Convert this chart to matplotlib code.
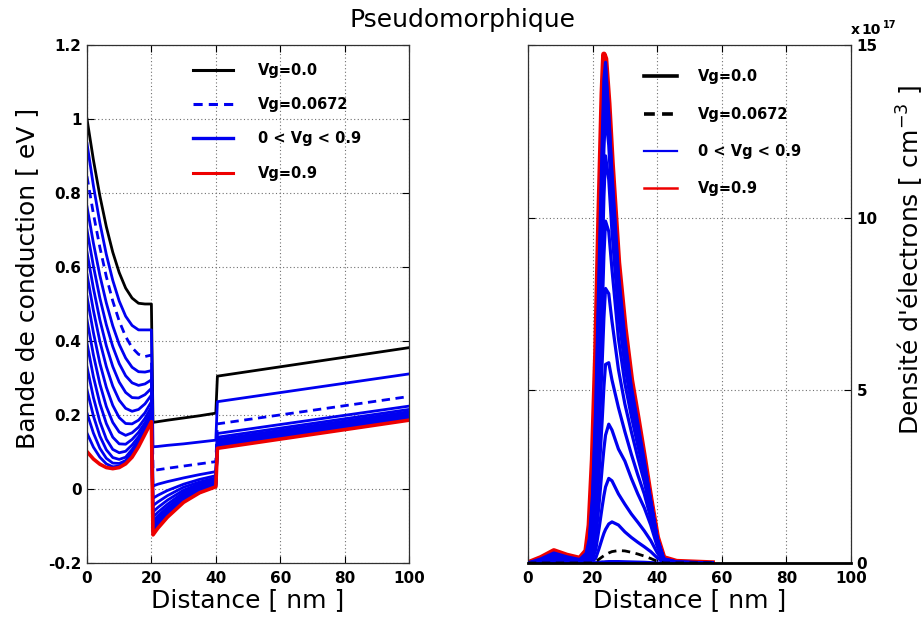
import matplotlib
matplotlib.use('Agg')
import matplotlib.pyplot as plt
from matplotlib.lines import Line2D

plt.rcParams['font.family'] = ['DejaVu Sans']

# ---------------- data : conduction band (left panel) ----------------
cb_x = [0, 2, 4, 6, 8, 10, 12, 14, 16, 18, 20, 20.5, 22, 25, 30, 35, 40, 40.5, 100]

cb_vg0 = [1.000, 0.889, 0.792, 0.709, 0.640, 0.585, 0.543, 0.516, 0.502, 0.500, 0.500,
          0.180, 0.182, 0.186, 0.192, 0.198, 0.205, 0.305, 0.382]
cb_b01 = [0.934, 0.819, 0.719, 0.634, 0.564, 0.508, 0.467, 0.442, 0.430, 0.430, 0.430,
          0.114, 0.115, 0.118, 0.122, 0.127, 0.132, 0.236, 0.311]
cb_dash = [0.845, 0.743, 0.653, 0.574, 0.508, 0.454, 0.412, 0.382, 0.364, 0.358, 0.362,
           0.050, 0.052, 0.056, 0.062, 0.068, 0.074, 0.176, 0.250]
cb_b03 = [0.763, 0.664, 0.577, 0.503, 0.441, 0.391, 0.354, 0.329, 0.317, 0.316, 0.320,
          0.008, 0.013, 0.020, 0.030, 0.039, 0.047, 0.150, 0.224]
cb_b04 = [0.700, 0.602, 0.516, 0.444, 0.385, 0.339, 0.306, 0.287, 0.280, 0.284, 0.295,
          -0.025, -0.017, -0.004, 0.013, 0.026, 0.036, 0.140, 0.215]
cb_b05 = [0.640, 0.542, 0.457, 0.387, 0.331, 0.289, 0.261, 0.247, 0.246, 0.255, 0.272,
          -0.045, -0.035, -0.018, 0.005, 0.019, 0.030, 0.134, 0.209]
cb_b06 = [0.580, 0.482, 0.399, 0.331, 0.278, 0.240, 0.218, 0.210, 0.215, 0.230, 0.254,
          -0.062, -0.050, -0.030, -0.003, 0.014, 0.025, 0.129, 0.204]
cb_b07 = [0.520, 0.422, 0.340, 0.275, 0.226, 0.193, 0.177, 0.176, 0.186, 0.206, 0.236,
          -0.076, -0.063, -0.041, -0.009, 0.009, 0.021, 0.125, 0.200]
cb_b08 = [0.457, 0.362, 0.284, 0.223, 0.180, 0.154, 0.145, 0.152, 0.167, 0.191, 0.222,
          -0.088, -0.073, -0.049, -0.015, 0.005, 0.017, 0.121, 0.197]
cb_b09 = [0.394, 0.303, 0.231, 0.177, 0.140, 0.122, 0.121, 0.134, 0.153, 0.179, 0.210,
          -0.097, -0.081, -0.056, -0.020, 0.002, 0.014, 0.118, 0.194]
cb_b10 = [0.330, 0.247, 0.182, 0.135, 0.107, 0.098, 0.102, 0.119, 0.141, 0.170, 0.200,
          -0.105, -0.088, -0.062, -0.025, -0.002, 0.012, 0.116, 0.192]
cb_b11 = [0.268, 0.197, 0.143, 0.106, 0.085, 0.080, 0.086, 0.107, 0.133, 0.163, 0.193,
          -0.111, -0.094, -0.066, -0.029, -0.005, 0.010, 0.114, 0.190]
cb_b12 = [0.205, 0.151, 0.110, 0.083, 0.070, 0.069, 0.077, 0.099, 0.127, 0.158, 0.188,
          -0.116, -0.098, -0.070, -0.032, -0.007, 0.008, 0.112, 0.189]
cb_b13 = [0.151, 0.113, 0.086, 0.068, 0.060, 0.062, 0.072, 0.092, 0.120, 0.153, 0.185,
          -0.120, -0.102, -0.073, -0.034, -0.009, 0.007, 0.111, 0.188]
cb_vg9 = [0.101, 0.081, 0.067, 0.058, 0.055, 0.058, 0.068, 0.086, 0.114, 0.148, 0.182,
          -0.124, -0.106, -0.076, -0.036, -0.010, 0.006, 0.110, 0.186]

# ---------------- data : electron density (right panel, x 1e17 cm^-3) ----------------
n_x = [0, 4, 8, 12, 16, 18, 19, 20, 21, 22, 23, 23.5, 24, 25, 26, 28, 30, 32, 34, 36, 38, 40, 42, 46, 57]
n_x0 = [0, 100]
n_vg0 = [0.0, 0.0]
n_b01 = [0, 0, 0, 0, 0, 0, 0, 0.0, 0.01, 0.02, 0.03, 0.03, 0.035, 0.04, 0.04, 0.04, 0.035, 0.03,
         0.025, 0.02, 0.01, 0.0, 0.0, 0.0, 0.0]
n_dash = [0, 0, 0, 0, 0, 0, 0, 0.0, 0.04, 0.11, 0.18, 0.21, 0.24, 0.29, 0.33, 0.36, 0.35, 0.31,
          0.26, 0.20, 0.13, 0.05, 0.0, 0.0, 0.0]
n_b03 = [0, 0, 0, 0, 0, 0, 0.01, 0.04, 0.15, 0.42, 0.72, 0.86, 0.97, 1.13, 1.19, 1.10, 0.90, 0.74,
         0.60, 0.47, 0.33, 0.15, 0.02, 0.0, 0.0]
n_b04 = [0, 0, 0, 0, 0, 0.01, 0.03, 0.12, 0.40, 1.00, 1.65, 1.95, 2.20, 2.45, 2.38, 2.00, 1.70, 1.42,
         1.18, 0.93, 0.65, 0.30, 0.04, 0.0, 0.0]
n_b05 = [0, 0, 0, 0, 0, 0.02, 0.06, 0.25, 0.75, 1.70, 2.80, 3.30, 3.70, 4.02, 3.85, 3.30, 2.95, 2.45,
         2.00, 1.60, 1.10, 0.48, 0.07, 0.01, 0.0]
n_b06 = [0, 0, 0, 0, 0, 0.03, 0.10, 0.40, 1.20, 2.60, 4.20, 5.10, 5.75, 5.80, 5.30, 4.50, 3.80, 3.15,
         2.55, 2.00, 1.30, 0.56, 0.08, 0.01, 0.0]
n_b07 = [0, 0, 0.01, 0, 0, 0.05, 0.16, 0.60, 1.75, 3.70, 5.90, 7.10, 7.95, 7.80, 7.00, 5.60, 4.60, 3.80,
         3.05, 2.35, 1.50, 0.62, 0.09, 0.01, 0.0]
n_b08 = [0, 0, 0.02, 0.01, 0.01, 0.07, 0.22, 0.85, 2.30, 4.80, 7.40, 8.90, 9.90, 9.60, 8.50, 6.50, 5.20,
         4.25, 3.40, 2.60, 1.62, 0.66, 0.10, 0.01, 0.0]
n_b09 = [0, 0.01, 0.04, 0.03, 0.02, 0.10, 0.30, 1.10, 2.90, 5.80, 8.80, 10.6, 11.79, 11.1, 9.60, 7.20,
         5.70, 4.60, 3.65, 2.70, 1.68, 0.68, 0.10, 0.02, 0.0]
n_b10 = [0, 0.03, 0.09, 0.06, 0.04, 0.15, 0.40, 1.40, 3.50, 6.80, 10.2, 12.0, 13.04, 12.1, 10.4, 7.70,
         6.00, 4.80, 3.80, 2.80, 1.72, 0.70, 0.11, 0.02, 0.0]
n_b11 = [0, 0.06, 0.16, 0.10, 0.06, 0.20, 0.50, 1.60, 3.90, 7.40, 11.0, 12.9, 13.8, 12.6, 10.8, 8.00,
         6.20, 4.90, 3.90, 2.85, 1.75, 0.70, 0.12, 0.02, 0.0]
n_b12 = [0, 0.09, 0.23, 0.14, 0.08, 0.24, 0.60, 1.80, 4.30, 8.00, 11.7, 13.5, 14.3, 12.9, 11.1, 8.20,
         6.35, 5.00, 3.95, 2.90, 1.78, 0.71, 0.12, 0.03, 0.0]
n_b13 = [0, 0.12, 0.29, 0.18, 0.10, 0.28, 0.70, 2.00, 4.60, 8.50, 12.3, 14.0, 14.5, 13.0, 11.3, 8.40,
         6.50, 5.10, 4.05, 2.95, 1.80, 0.72, 0.12, 0.03, 0.0]
n_vg9 = [0, 0.15, 0.35, 0.22, 0.13, 0.35, 1.10, 3.00, 6.00, 10.0, 13.6, 14.73, 14.6, 13.3, 11.6, 8.70,
         6.80, 5.30, 4.20, 3.05, 1.85, 0.75, 0.15, 0.04, 0.0]

cb_blues = [cb_b01, cb_b03, cb_b04, cb_b05, cb_b06, cb_b07, cb_b08, cb_b09, cb_b10, cb_b11, cb_b12, cb_b13]
n_blues = [n_b01, n_b03, n_b04, n_b05, n_b06, n_b07, n_b08, n_b09, n_b10, n_b11, n_b12, n_b13]

x_ticks = [0, 20, 40, 60, 80, 100]
cb_ticks = [-0.2, 0, 0.2, 0.4, 0.6, 0.8, 1.0, 1.2]
cb_ticklabels = ['-0.2', '0', '0.2', '0.4', '0.6', '0.8', '1', '1.2']
n_ticks = [0, 5, 10, 15]
legend_labels_left = ['Vg=0.0', 'Vg=0.0672', '0 < Vg < 0.9', 'Vg=0.9']
legend_labels_right = ['Vg=0.0', 'Vg=0.0672', '0 < Vg < 0.9', 'Vg=0.9']

BLUE = '#0000f0'
RED = '#ee0000'

W, H = 924, 617
fig = plt.figure(figsize=(W / 100, H / 100), dpi=100)
ax1 = fig.add_axes([87 / W, 1 - 563 / H, 322 / W, 518 / H])
ax2 = fig.add_axes([528 / W, 1 - 563 / H, 323 / W, 518 / H])


def style(ax):
    ax.grid(True, linestyle=(0, (1, 2.2)), color='#707070', linewidth=0.8)
    ax.set_axisbelow(True)
    ax.tick_params(direction='in', length=5, width=0.8, top=True, right=True,
                   labelsize=11, pad=4)
    for s in ax.spines.values():
        s.set_color('#303030')
        s.set_linewidth(0.9)


# ---------- left panel ----------
ax1.plot(cb_x, cb_vg0, color='black', lw=2.0)
for ys in cb_blues:
    ax1.plot(cb_x, ys, color=BLUE, lw=2.0)
ax1.plot(cb_x, cb_dash, color=BLUE, lw=2.0, dashes=(3, 2))
ax1.plot(cb_x, cb_vg9, color=RED, lw=2.6)
ax1.set_xlim(0, 100)
ax1.set_ylim(-0.2, 1.2)
ax1.set_xticks(x_ticks)
ax1.set_yticks(cb_ticks)
ax1.set_yticklabels(cb_ticklabels)
style(ax1)
ax1.tick_params(axis='x', pad=6)
for t in ax1.get_xticklabels() + ax1.get_yticklabels():
    t.set_fontweight('bold')
ax1.set_xlabel('Distance [ nm ]', fontsize=18)
ax1.set_ylabel('Bande de conduction [ eV ]', fontsize=18)
ax1.xaxis.set_label_coords(0.5, -0.071)
ax1.xaxis.label.set_va('center')
ax1.yaxis.set_label_coords(-0.186, 0.55)
ax1.yaxis.label.set_va('center')

h_left = [Line2D([], [], color='black', lw=2.2),
          Line2D([], [], color=BLUE, lw=2.2, dashes=(3, 2)),
          Line2D([], [], color=BLUE, lw=2.4),
          Line2D([], [], color=RED, lw=2.2)]
ax1.legend(h_left, legend_labels_left, loc='upper left', bbox_to_anchor=(0.329, 0.966),
           frameon=False, prop={'weight': 'bold', 'size': 10.5}, handlelength=2.74,
           handletextpad=1.7, labelspacing=1.33, borderpad=0, borderaxespad=0)

# ---------- right panel ----------
ax2.plot(n_x, n_vg9, color=RED, lw=4.0, zorder=2)
for ys in n_blues:
    ax2.plot(n_x, ys, color=BLUE, lw=2.3, zorder=3)
ax2.plot(n_x, n_dash, color='black', lw=2.0, dashes=(3, 2), zorder=4)
ax2.plot(n_x0, n_vg0, color='black', lw=2.0, zorder=4, clip_on=False)
ax2.set_xlim(0, 100)
ax2.set_ylim(0, 15)
ax2.set_xticks(x_ticks)
ax2.set_yticks(n_ticks)
style(ax2)
ax2.tick_params(axis='y', labelleft=False, labelright=True)
ax2.tick_params(axis='x', pad=6)
for t in ax2.get_xticklabels() + ax2.get_yticklabels():
    t.set_fontweight('bold')
ax2.set_xlabel('Distance [ nm ]', fontsize=18)
ax2.xaxis.set_label_coords(0.5, -0.071)
ax2.xaxis.label.set_va('center')
ax2.yaxis.set_label_position('right')
ax2.set_ylabel("Densité d'électrons [ cm$^{-3}$ ]", fontsize=18)
ax2.yaxis.set_label_coords(1.183, 0.585)
ax2.yaxis.label.set_va('center')

h_right = [Line2D([], [], color='black', lw=2.6),
           Line2D([], [], color='black', lw=2.6, dashes=(3, 2)),
           Line2D([], [], color=BLUE, lw=1.6),
           Line2D([], [], color=RED, lw=1.8)]
ax2.legend(h_right, legend_labels_right, loc='upper left', bbox_to_anchor=(0.359, 0.953),
           frameon=False, prop={'weight': 'bold', 'size': 10.5}, handlelength=2.26,
           handletextpad=1.44, labelspacing=1.53, borderpad=0, borderaxespad=0)

fig.text(851 / W, 1 - 37 / H, 'x', fontsize=10, fontweight='bold', ha='left', va='bottom')
fig.text(861 / W, 1 - 37 / H, '10', fontsize=10, fontweight='bold', ha='left', va='bottom')
fig.text(883 / W, 1 - 30 / H, '17', fontsize=7, fontweight='bold', ha='left', va='bottom')

fig.text(462 / W, 1 - 20 / H, 'Pseudomorphique', fontsize=18, ha='center', va='center')

fig.savefig('out.png', dpi=100)
